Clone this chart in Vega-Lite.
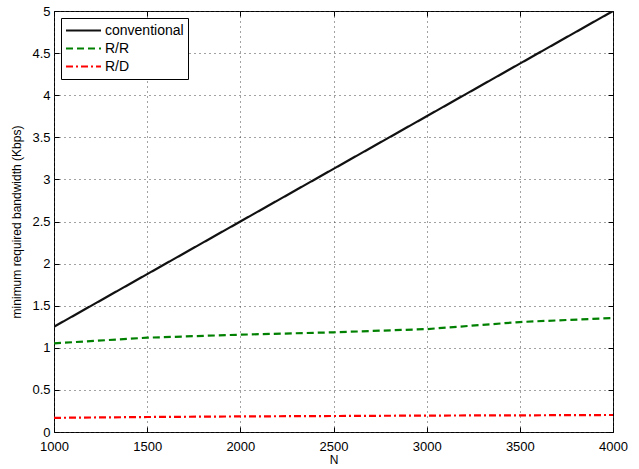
{
  "$schema": "https://vega.github.io/schema/vega-lite/v6.json",
  "width": 559,
  "height": 421,
  "autosize": "none",
  "padding": {"left": 54, "top": 11, "right": 26, "bottom": 37},
  "background": "white",
  "config": {
    "view": {"stroke": "black", "strokeWidth": 1},
    "font": "Liberation Sans",
    "axis": {
      "labelFont": "Liberation Sans",
      "labelFontSize": 13,
      "labelColor": "black",
      "titleFont": "Liberation Sans",
      "titleFontSize": 12,
      "titleFontWeight": "normal",
      "titleColor": "black",
      "domain": false,
      "tickColor": "black",
      "tickSize": -5,
      "gridColor": "#444",
      "gridDash": [1, 4],
      "gridWidth": 1
    }
  },
  "data": {
    "values": [
      {"N": 1000, "bw": 1.25, "scheme": "conventional"},
      {"N": 4000, "bw": 5.0, "scheme": "conventional"},
      {"N": 1000, "bw": 1.053, "scheme": "R/R"},
      {"N": 1500, "bw": 1.12, "scheme": "R/R"},
      {"N": 2000, "bw": 1.156, "scheme": "R/R"},
      {"N": 2500, "bw": 1.184, "scheme": "R/R"},
      {"N": 3000, "bw": 1.222, "scheme": "R/R"},
      {"N": 3500, "bw": 1.306, "scheme": "R/R"},
      {"N": 4000, "bw": 1.354, "scheme": "R/R"},
      {"N": 1000, "bw": 0.168, "scheme": "R/D"},
      {"N": 1500, "bw": 0.178, "scheme": "R/D"},
      {"N": 2000, "bw": 0.185, "scheme": "R/D"},
      {"N": 2500, "bw": 0.19, "scheme": "R/D"},
      {"N": 3000, "bw": 0.195, "scheme": "R/D"},
      {"N": 3500, "bw": 0.198, "scheme": "R/D"},
      {"N": 4000, "bw": 0.202, "scheme": "R/D"}
    ]
  },
  "layer": [
    {
      "mark": {"type": "line", "clip": true},
      "encoding": {
        "x": {
          "field": "N", "type": "quantitative",
          "scale": {"domain": [1000, 4000], "nice": false},
          "axis": {"orient": "bottom", "values": [1000, 1500, 2000, 2500, 3000, 3500, 4000], "format": "d", "grid": true, "title": "N", "labelPadding": 13, "titlePadding": 1, "labelFlush": false}
        },
        "y": {
          "field": "bw", "type": "quantitative",
          "scale": {"domain": [0, 5], "nice": false},
          "axis": {"orient": "left", "values": [0, 0.5, 1, 1.5, 2, 2.5, 3, 3.5, 4, 4.5, 5], "format": "~g", "grid": true, "title": "minimum required bandwidth (Kbps)", "labelPadding": 9, "titlePadding": 8}
        },
        "color": {
          "field": "scheme", "type": "nominal",
          "scale": {"domain": ["conventional", "R/R", "R/D"], "range": ["#111111", "#008000", "#ff0000"]},
          "legend": {
            "title": null,
            "orient": "top-left",
            "offset": 7,
            "symbolType": "stroke",
            "symbolSize": 1225,
            "symbolStrokeWidth": 2,
            "clipHeight": 17,
            "labelFont": "Liberation Sans",
            "labelFontSize": 14,
            "labelColor": "black",
            "strokeColor": "black",
            "fillColor": "white",
            "padding": 4,
            "rowPadding": 1,
            "labelOffset": 3
          }
        },
        "strokeDash": {
          "field": "scheme", "type": "nominal",
          "scale": {"domain": ["conventional", "R/R", "R/D"], "range": [[1, 0], [7, 4], [7, 3, 2, 3]]},
          "legend": null
        },
        "strokeWidth": {"value": 2.2}
      }
    },
    {
      "mark": {"type": "line", "strokeOpacity": 0},
      "encoding": {
        "x": {
          "field": "N", "type": "quantitative",
          "axis": {"orient": "top", "values": [1000, 1500, 2000, 2500, 3000, 3500, 4000], "labels": false, "grid": false, "title": null}
        },
        "y": {
          "field": "bw", "type": "quantitative",
          "axis": {"orient": "right", "values": [0, 0.5, 1, 1.5, 2, 2.5, 3, 3.5, 4, 4.5, 5], "labels": false, "grid": false, "title": null}
        },
        "detail": {"field": "scheme", "type": "nominal"}
      }
    }
  ],
  "resolve": {"axis": {"x": "independent", "y": "independent"}}
}
